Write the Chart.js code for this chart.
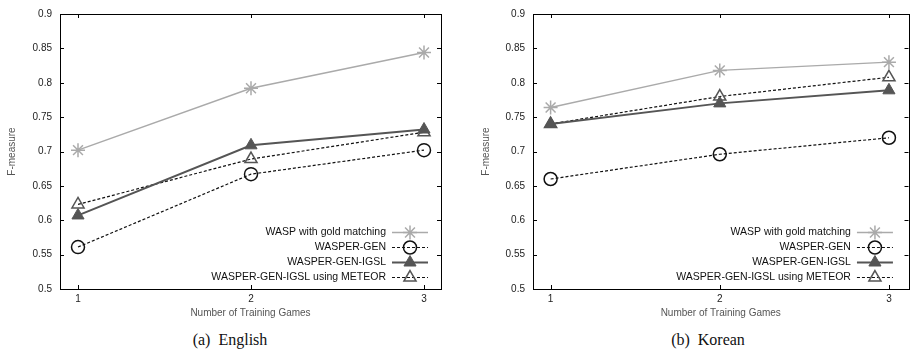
<!DOCTYPE html>
<html>
<head>
<meta charset="utf-8">
<script src="https://cdn.jsdelivr.net/npm/chart.js@4"></script>
<style>
  body { margin: 0; background: #fff; width: 910px; height: 358px; overflow: hidden; position: relative; }
  .panel { position: absolute; top: 0; height: 322px; overflow: hidden; }
  .caption { position: absolute; top: 331px; font: 16px "Liberation Serif", "Times New Roman", serif; color: #111; white-space: pre; transform: translateX(-50%); }
</style>
</head>
<body>
<div class="panel" style="left:0;width:455px"><canvas id="english" width="455" height="322"></canvas></div>
<div class="panel" style="left:455px;width:455px"><canvas id="korean" width="462" height="322"></canvas></div>
<div class="caption" style="left:230px">(a)  English</div>
<div class="caption" style="left:708px">(b)  Korean</div>
<script>
// number of training games on the x axis
const games = [1, 2, 3]
const yTicks = [0.5, 0.55, 0.6, 0.65, 0.7, 0.75, 0.8, 0.85, 0.9]

// English results
const enGold = [0.702, 0.792, 0.844]
const enGen = [0.561, 0.667, 0.702]
const enIgsl = [0.607, 0.709, 0.732]
const enMeteor = [0.623, 0.689, 0.728]

// Korean results
const koGold = [0.764, 0.818, 0.830]
const koGen = [0.660, 0.696, 0.720]
const koIgsl = [0.740, 0.770, 0.789]
const koMeteor = [0.740, 0.780, 0.808]

const names = ['WASP with gold matching', 'WASPER-GEN', 'WASPER-GEN-IGSL', 'WASPER-GEN-IGSL using METEOR']

const styles = [
    {borderColor: '#aaaaaa', borderWidth: 1.5, borderDash: [], pointStyle: 'star', pointRadius: 7,
     pointBorderColor: '#aaaaaa', pointBackgroundColor: 'rgba(0,0,0,0)', pointBorderWidth: 1.5},
    {borderColor: '#111111', borderWidth: 1.2, borderDash: [3, 2], pointStyle: 'circle', pointRadius: 6.5,
     pointBorderColor: '#111111', pointBackgroundColor: 'rgba(0,0,0,0)', pointBorderWidth: 1.5},
    {borderColor: '#555555', borderWidth: 2, borderDash: [], pointStyle: 'triangle', pointRadius: 7,
     pointBorderColor: '#555555', pointBackgroundColor: '#555555', pointBorderWidth: 1},
    {borderColor: '#111111', borderWidth: 1.2, borderDash: [3, 2], pointStyle: 'triangle', pointRadius: 7,
     pointBorderColor: '#555555', pointBackgroundColor: 'rgba(0,0,0,0)', pointBorderWidth: 1.5}
]

const font = {family: '"Liberation Sans", Arial, sans-serif', size: 10}

// gnuplot style frame with inward ticks on every side
const frame = {
    id: 'frame',
    beforeDatasetsDraw(chart) {
        const ctx = chart.ctx, a = chart.chartArea
        const xs = chart.scales.x, ys = chart.scales.y
        ctx.save()
        ctx.strokeStyle = '#000'
        ctx.lineWidth = 1
        ctx.strokeRect(Math.round(a.left) + 0.5, Math.round(a.top) + 0.5,
            Math.round(a.right - a.left), Math.round(a.bottom - a.top))
        ctx.beginPath()
        yTicks.forEach(v => {
            const y = Math.round(ys.getPixelForValue(v)) + 0.5
            ctx.moveTo(a.left, y); ctx.lineTo(a.left + 4, y)
            ctx.moveTo(a.right, y); ctx.lineTo(a.right - 4, y)
        })
        games.forEach(v => {
            const x = Math.round(xs.getPixelForValue(v)) + 0.5
            ctx.moveTo(x, a.bottom); ctx.lineTo(x, a.bottom - 4)
            ctx.moveTo(x, a.top); ctx.lineTo(x, a.top + 4)
        })
        ctx.stroke()
        ctx.restore()
    }
}

// key in the lower right corner: label, then line sample with marker
const key = {
    id: 'key',
    afterDatasetsDraw(chart) {
        const ctx = chart.ctx, a = chart.chartArea
        const mx = chart.scales.x.getPixelForValue(3) - 14
        ctx.save()
        ctx.font = '10.5px "Liberation Sans", Arial, sans-serif'
        ctx.textAlign = 'right'
        ctx.textBaseline = 'middle'
        names.forEach((name, i) => {
            const s = styles[i]
            const y = Math.round(a.bottom - 57 + i * 15) + 0.5
            ctx.fillStyle = '#111'
            ctx.fillText(name, mx - 24, y)
            ctx.strokeStyle = s.borderColor
            ctx.lineWidth = s.borderWidth
            ctx.setLineDash(s.borderDash)
            ctx.beginPath()
            ctx.moveTo(mx - 18, y); ctx.lineTo(mx + 18, y)
            ctx.stroke()
            ctx.setLineDash([])
            ctx.strokeStyle = s.pointBorderColor
            ctx.fillStyle = s.pointBackgroundColor
            ctx.lineWidth = s.pointBorderWidth
            Chart.helpers.drawPoint(ctx, {pointStyle: s.pointStyle, radius: s.pointRadius, rotation: 0,
                borderWidth: s.pointBorderWidth}, mx, y)
        })
        ctx.restore()
    }
}

function makeChart(id, series, yWidth, yTitlePad, rightPad, xMax)
{
    const ctx = document.getElementById(id).getContext('2d')
    return new Chart(ctx, {
        type: 'line',
        data: {
            datasets: series.map((vals, i) => Object.assign({
                label: names[i],
                data: games.map((g, j) => ({x: g, y: vals[j]})),
                tension: 0,
                fill: false,
                clip: false
            }, styles[i]))
        },
        options: {
            responsive: false,
            animation: false,
            layout: {padding: {top: 13, right: rightPad, left: 0, bottom: 0}},
            plugins: {legend: {display: false}, tooltip: {enabled: false}},
            scales: {
                x: {
                    type: 'linear',
                    min: 1 - 18 / 173,
                    max: xMax,
                    afterBuildTicks: s => { s.ticks = games.map(v => ({value: v})) },
                    afterFit: s => { s.height = 33 },
                    grid: {display: false, drawTicks: false},
                    border: {display: false},
                    ticks: {font: font, color: '#222', padding: 4, maxRotation: 0},
                    title: {display: true, text: 'Number of Training Games', font: font, color: '#555',
                        padding: {top: 0, bottom: 3}}
                },
                y: {
                    min: 0.5,
                    max: 0.9,
                    afterBuildTicks: s => { s.ticks = yTicks.map(v => ({value: v})) },
                    afterFit: s => { s.width = yWidth },
                    grid: {display: false, drawTicks: false},
                    border: {display: false},
                    ticks: {font: font, color: '#222', padding: 8, callback: v => String(+v.toFixed(2))},
                    title: {display: true, text: 'F-measure', font: font, color: '#555',
                        padding: {top: yTitlePad, bottom: 0}}
                }
            }
        },
        plugins: [frame, key]
    })
}

makeChart('english', [enGold, enGen, enIgsl, enMeteor], 60, 6, 14, 3 + 17 / 173)
makeChart('korean', [koGold, koGen, koIgsl, koMeteor], 78, 25, 0, 3 + 20 / 173)
</script>
</body>
</html>
